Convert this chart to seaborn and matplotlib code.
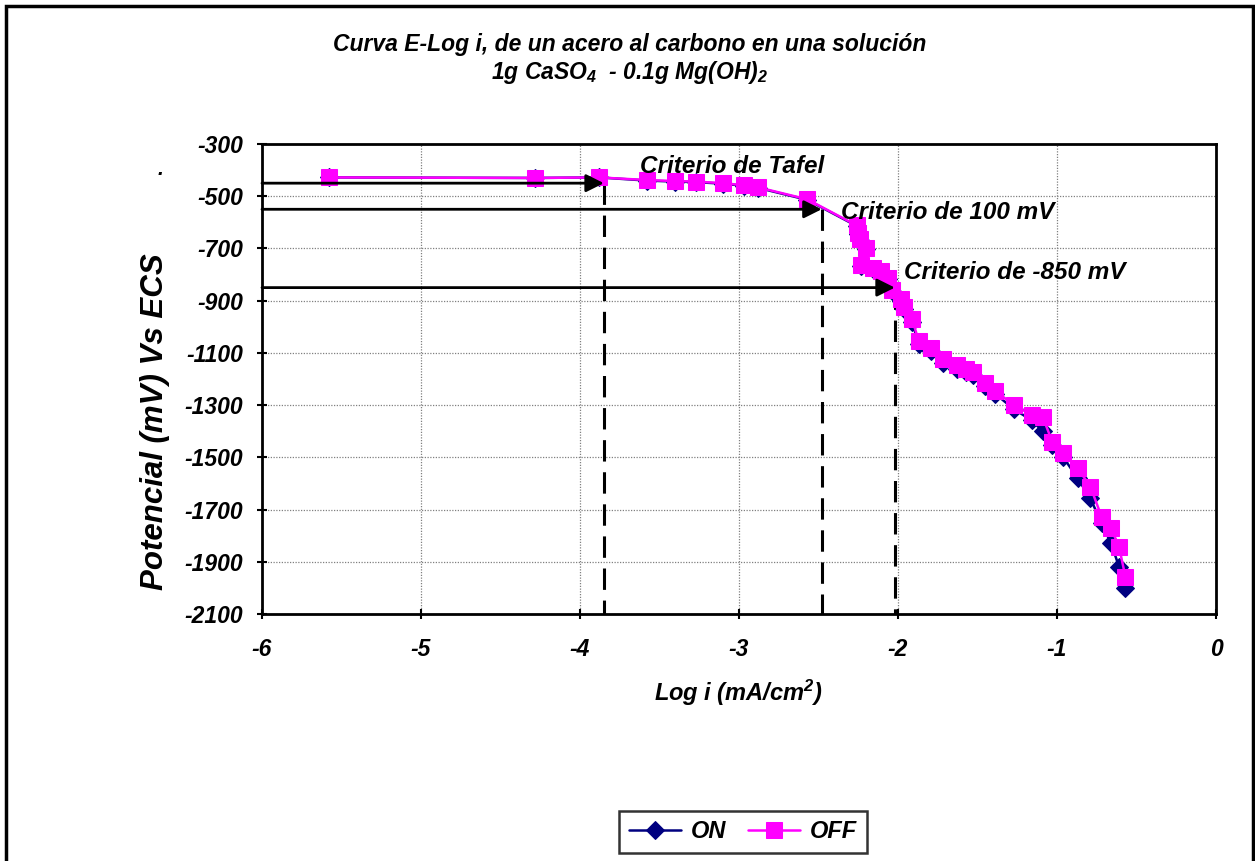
import matplotlib
matplotlib.use("Agg")
import matplotlib.pyplot as plt
from matplotlib.patches import Rectangle
import seaborn as sns
import pandas as pd

# Polarisation data: log current density (mA/cm2) and potential (mV vs SCE)
log_i = [-5.58, -4.28, -3.88, -3.58, -3.40, -3.27, -3.10, -2.97, -2.88, -2.57,
         -2.26, -2.25, -2.24, -2.20, -2.23, -2.16, -2.11, -2.06, -2.04, -1.98,
         -1.96, -1.91, -1.87, -1.79, -1.72, -1.63, -1.57, -1.53, -1.45, -1.39,
         -1.27, -1.16, -1.09, -1.03, -0.96, -0.87, -0.79, -0.72, -0.66, -0.61,
         -0.57]
e_off = [-428, -430, -428, -438, -442, -444, -450, -458, -466, -512,
         -612, -640, -665, -700, -762, -774, -787, -812, -858, -895,
         -923, -972, -1055, -1082, -1125, -1148, -1160, -1172, -1215, -1245,
         -1300, -1338, -1345, -1440, -1485, -1542, -1612, -1727, -1772, -1842,
         -1957]
e_on = [-428, -430, -428, -440, -444, -446, -452, -460, -468, -514,
        -614, -643, -668, -704, -768, -780, -793, -818, -864, -903,
        -933, -983, -1066, -1093, -1138, -1160, -1173, -1185, -1228, -1256,
        -1316, -1358, -1400, -1452, -1500, -1581, -1657, -1753, -1829, -1919,
        -2000]

# Graphical criteria: reference potential and the log i where it meets the curve
crit_labels = ["Criterio de Tafel", "Criterio de 100 mV", "Criterio de -850 mV"]
crit_e = [-450, -550, -850]
crit_logi = [-3.85, -2.48, -2.02]
crit_label_pos = [(-3.62, -388), (-2.36, -564), (-1.96, -794)]

y_ticks = list(range(-2100, -299, 200))
x_ticks = [-6, -5, -4, -3, -2, -1, 0]

sns.set_theme(style="white")
plt.rcParams["font.family"] = ["Liberation Sans", "DejaVu Sans"]
plt.rcParams["font.weight"] = "bold"
plt.rcParams["font.style"] = "italic"
plt.rcParams["text.color"] = "black"
plt.rcParams["axes.labelcolor"] = "black"
plt.rcParams["xtick.color"] = "black"
plt.rcParams["ytick.color"] = "black"
plt.rcParams["mathtext.fontset"] = "custom"
plt.rcParams["mathtext.rm"] = "Liberation Sans:bold:italic"
plt.rcParams["mathtext.it"] = "Liberation Sans:bold:italic"
plt.rcParams["mathtext.bf"] = "Liberation Sans:bold:italic"

TXT = dict(fontweight="bold", fontstyle="italic", color="black")

fig = plt.figure(figsize=(12.55, 8.61), dpi=100)
fig.patch.set_facecolor("white")
ax = fig.add_axes([262 / 1255, 1 - 614 / 861, (1216 - 262) / 1255, 470 / 861])

df_on = pd.DataFrame({"log_i": log_i, "E": e_on})
df_off = pd.DataFrame({"log_i": log_i, "E": e_off})

sns.lineplot(data=df_on, x="log_i", y="E", sort=False, ax=ax, color="#000080",
             linewidth=1.8, marker="D", markersize=9, markeredgecolor="#000080",
             markerfacecolor="#000080", label="ON", zorder=3)
sns.lineplot(data=df_off, x="log_i", y="E", sort=False, ax=ax, color="#FF00FF",
             linewidth=1.8, marker="s", markersize=11.5, markeredgecolor="#FF00FF",
             markerfacecolor="#FF00FF", label="OFF", zorder=4)

# Criteria: horizontal arrows from the axis and dashed drop lines to the bottom
for lab, e, li, (tx, ty) in zip(crit_labels, crit_e, crit_logi, crit_label_pos):
    ax.annotate("", xy=(li, e), xytext=(-6, e),
                arrowprops=dict(arrowstyle="-|>,head_length=0.9,head_width=0.45",
                                color="black", lw=2, shrinkA=0, shrinkB=0),
                zorder=5)
    ax.plot([li, li], [e, -2100], color="black", lw=2.2, dashes=(7, 3.5), zorder=2)
    ax.text(tx, ty, lab, fontsize=17.5, ha="left", va="center", zorder=6, **TXT)

ax.set_xlim(-6, 0)
ax.set_ylim(-2100, -300)
ax.set_xticks(x_ticks)
ax.set_yticks(y_ticks)
ax.set_xticklabels([str(v) for v in x_ticks])
ax.set_yticklabels([str(v) for v in y_ticks])
ax.grid(True, color="#808080", linestyle=(0, (1, 1.2)), linewidth=0.9)
for s in ax.spines.values():
    s.set_visible(True)
    s.set_color("black")
    s.set_linewidth(2)
ax.tick_params(axis="both", direction="inout", length=7, width=1.5, colors="black",
               labelsize=16.5)
ax.tick_params(axis="y", pad=10, left=True)
ax.tick_params(axis="x", pad=14, bottom=True)
for t in ax.get_xticklabels() + ax.get_yticklabels():
    t.set_fontweight("bold")
    t.set_fontstyle("italic")

ax.set_xlabel("")
ax.set_ylabel("")
fig.text(155 / 1255, 1 - 422 / 861, "Potencial (mV) Vs ECS", rotation=90,
         fontsize=22.5, ha="center", va="center", **TXT)
fig.text(738 / 1255, 1 - 693 / 861, r"Log i (mA/cm$^2$)", fontsize=17,
         ha="center", va="center", **TXT)
fig.text(160 / 1255, 1 - 170 / 861, ".", fontsize=15, ha="center", va="center", **TXT)

fig.text(630 / 1255, 1 - 45 / 861, "Curva E-Log i, de un acero al carbono en una solución",
         fontsize=16.5, ha="center", va="center", **TXT)
fig.text(630 / 1255, 1 - 73 / 861, r"1g CaSO$_4$  - 0.1g Mg(OH)$_2$",
         fontsize=16.5, ha="center", va="center", **TXT)

leg = ax.legend(loc="center", bbox_to_anchor=(743 / 1255, 1 - 832 / 861),
                bbox_transform=fig.transFigure, ncol=2, frameon=True, fancybox=False,
                edgecolor="black", fontsize=17, handlelength=2.2, columnspacing=0.9,
                handletextpad=0.45, borderpad=0.4, borderaxespad=0)
leg.get_frame().set_linewidth(1.8)
for t in leg.get_texts():
    t.set_fontweight("bold")
    t.set_fontstyle("italic")
    t.set_color("black")

# Outer frame of the chart area
fig.patches.append(Rectangle((6 / 1255, -0.05), (1253 - 6) / 1255, 1 - 6 / 861 + 0.05,
                             transform=fig.transFigure, fill=False, edgecolor="black",
                             linewidth=2.5, zorder=10))

fig.savefig("out.png", dpi=100, facecolor="white")
